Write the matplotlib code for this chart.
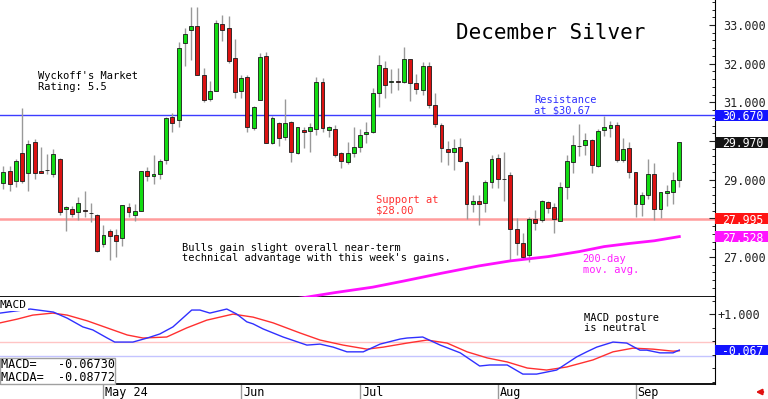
import numpy as np
import matplotlib.pyplot as plt
from matplotlib.patches import Rectangle
from matplotlib.transforms import blended_transform_factory, offset_copy
from matplotlib.ticker import FixedLocator, MultipleLocator

plt.rcParams['font.family'] = ['DejaVu Sans Mono', 'DejaVu Sans']

# daily candles, December silver, mid Apr - mid Sep 2024
opens = [28.91, 29.22, 28.97, 29.69, 29.17, 29.97, 29.22, 29.24, 29.15, 29.53,
         28.24, 28.24, 28.16, 28.22, 28.14, 28.09, 27.34, 27.67, 27.57, 27.49,
         28.29, 28.09, 28.19, 29.22, 29.09, 29.15, 29.51, 30.62, 30.54, 32.53,
         32.87, 32.97, 31.71, 31.09, 31.29, 33.02, 32.92, 32.15, 31.29, 31.65,
         30.34, 31.06, 32.20, 29.95, 30.47, 30.10, 30.49, 29.69, 30.28, 30.26,
         30.31, 31.53, 30.28, 30.31, 29.69, 29.46, 29.69, 29.84, 30.18, 30.23,
         31.24, 31.89, 31.52, 31.54, 31.53, 32.12, 31.50, 31.32, 31.94, 30.93,
         30.41, 29.79, 29.72, 29.84, 29.46, 28.37, 28.45, 28.40, 28.94, 29.56,
         29.01, 29.12, 27.72, 27.36, 27.05, 27.98, 27.96, 28.42, 28.29, 27.93,
         28.81, 29.46, 29.88, 29.90, 30.03, 29.35, 30.28, 30.34, 30.41, 29.51,
         29.82, 29.20, 28.37, 28.60, 29.15, 28.24, 28.65, 28.68, 28.99]
highs = [29.35, 29.35, 29.53, 30.85, 30.03, 30.05, 29.84, 29.66, 29.79, 29.56,
         28.32, 28.32, 28.55, 28.71, 28.40, 28.10, 27.83, 27.72, 27.72, 28.35,
         28.40, 28.37, 29.23, 29.33, 29.64, 29.53, 30.62, 30.72, 32.56, 32.92,
         33.47, 33.47, 31.89, 31.55, 33.13, 33.26, 33.23, 32.64, 31.71, 31.71,
         30.91, 32.28, 32.30, 30.65, 30.49, 31.09, 30.52, 30.37, 30.36, 30.47,
         31.65, 31.63, 30.39, 30.41, 29.72, 29.97, 30.36, 30.31, 30.49, 31.37,
         32.22, 32.07, 31.86, 31.89, 32.43, 32.13, 31.73, 32.04, 32.04, 31.24,
         30.46, 30.00, 30.05, 30.08, 29.47, 28.60, 28.60, 28.99, 29.64, 29.66,
         29.72, 29.20, 28.01, 27.62, 28.03, 28.22, 28.47, 28.45, 28.40, 28.94,
         29.64, 30.16, 30.44, 30.21, 30.04, 30.31, 30.65, 30.52, 30.49, 30.08,
         29.97, 29.21, 28.68, 29.53, 29.43, 28.69, 28.86, 29.20, 29.98]
lows = [28.76, 28.71, 28.81, 28.91, 28.71, 29.02, 29.16, 29.15, 29.07, 28.09,
        27.67, 28.03, 27.96, 28.03, 27.91, 27.14, 27.26, 26.92, 27.00, 27.28,
        28.03, 27.93, 28.18, 28.97, 28.89, 29.02, 29.40, 30.23, 30.36, 31.94,
        32.09, 31.70, 31.01, 31.03, 31.28, 32.59, 32.02, 31.11, 31.11, 30.23,
        30.28, 31.05, 29.94, 29.92, 29.87, 30.03, 29.46, 29.66, 29.82, 29.72,
        30.16, 30.23, 30.10, 29.59, 29.30, 29.40, 29.59, 29.72, 29.95, 30.21,
        30.88, 31.11, 31.24, 31.32, 31.50, 31.03, 31.22, 31.19, 30.85, 30.36,
        29.46, 29.38, 29.25, 29.46, 27.98, 28.16, 27.83, 28.16, 28.78, 28.78,
        28.45, 26.92, 27.05, 26.97, 26.87, 27.70, 27.91, 28.14, 27.62, 27.93,
        28.50, 29.17, 29.61, 29.64, 29.17, 29.33, 30.13, 30.10, 29.46, 29.46,
        29.04, 28.03, 28.06, 28.50, 27.96, 28.01, 28.32, 28.37, 28.81]
closes = [29.20, 28.89, 29.48, 28.97, 29.92, 29.17, 29.17, 29.26, 29.66, 28.16,
          28.29, 28.11, 28.40, 28.19, 28.13, 27.15, 27.57, 27.54, 27.41, 28.34,
          28.16, 28.19, 29.22, 29.09, 29.15, 29.48, 30.59, 30.47, 32.40, 32.77,
          32.97, 31.71, 31.06, 31.29, 33.05, 32.87, 32.07, 31.27, 31.63, 30.36,
          30.88, 32.17, 29.95, 30.59, 30.08, 30.47, 29.72, 30.36, 30.23, 30.36,
          31.53, 30.34, 30.36, 29.64, 29.48, 29.69, 29.84, 30.16, 30.23, 31.24,
          31.96, 31.45, 31.54, 31.52, 32.12, 31.50, 31.34, 31.94, 30.93, 30.44,
          29.82, 29.72, 29.82, 29.48, 28.37, 28.45, 28.37, 28.94, 29.53, 29.02,
          29.03, 27.72, 27.36, 27.00, 27.98, 27.88, 28.45, 28.27, 27.98, 28.81,
          29.48, 29.90, 29.86, 30.03, 29.38, 30.26, 30.36, 30.41, 29.51, 29.79,
          29.20, 28.37, 28.60, 29.15, 28.24, 28.68, 28.71, 28.99, 29.97]

# 200-day moving average (bar index, price)
ma_idx = [45, 48, 53, 59, 64, 70, 76, 81, 87, 92, 96, 100, 104, 108]
ma_val = [25.88, 25.95, 26.08, 26.22, 26.38, 26.58, 26.77, 26.90, 27.01,
          27.14, 27.27, 27.35, 27.42, 27.528]

# MACD (blue) and its average (red)
macd_idx = [-0.5, 4.3, 8, 10.2, 12.7, 14.3, 16.6, 17.8, 20.7, 23, 25, 27.1,
            30.1, 31.4, 33, 35.7, 37.3, 38.9, 39.9, 41.5, 44.7, 48.5, 50.6,
            52.7, 54.9, 57.5, 60.2, 63.4, 64.5, 67, 69.8, 73, 76.1, 77.7, 80.5,
            83, 85.2, 88.4, 91.6, 93.2, 94.8, 97.4, 99.6, 101.7, 102.8, 104.9,
            107, 108]
macd_val = [1.03, 1.15, 1.06, 0.88, 0.62, 0.53, 0.29, 0.17, 0.17, 0.29, 0.41,
            0.62, 1.12, 1.12, 1.03, 1.15, 1.00, 0.77, 0.71, 0.56, 0.32, 0.08,
            0.11, 0.02, -0.12, -0.12, 0.11, 0.26, 0.29, 0.32, 0.08, -0.15,
            -0.54, -0.51, -0.51, -0.78, -0.78, -0.66, -0.27, -0.12, 0.02, 0.17,
            0.14, -0.07, -0.07, -0.15, -0.15, -0.067]
sig_idx = [-0.5, 2.2, 4.7, 7.9, 10.2, 13.4, 16.6, 19.8, 22.3, 26.1, 29.3, 32.5,
           36.7, 39.9, 43.1, 47.4, 50.6, 54.3, 58.1, 60.7, 64.5, 67.7, 70.9,
           74.1, 77.3, 80.5, 83.7, 86.8, 90.0, 94.2, 97.4, 100.6, 103.8, 107,
           108]
sig_val = [0.74, 0.85, 0.97, 1.03, 0.97, 0.80, 0.59, 0.38, 0.29, 0.32, 0.59,
           0.82, 1.00, 0.91, 0.74, 0.44, 0.23, 0.08, -0.04, 0.02, 0.14, 0.23,
           0.14, -0.12, -0.30, -0.42, -0.60, -0.66, -0.57, -0.36, -0.12, -0.01,
           -0.04, -0.10, -0.088]

months = ['May 24', 'Jun', 'Jul', 'Aug', 'Sep']
month_idx = [16, 38, 57, 79, 101]

resistance = 30.67
support = 27.995
last_close = 29.97

fig = plt.figure(figsize=(7.68, 3.99), dpi=100)
ax = fig.add_axes([0, 1 - 297/399, 715/768, 297/399])
ax2 = fig.add_axes([0, 1 - 384/399, 715/768, 87/399], sharex=ax)

x = np.arange(len(opens))
o = np.array(opens)
c = np.array(closes)
cols = np.where(c >= o, '#12dc12', '#dc1212')
ax.vlines(x, lows, highs, color='#999999', lw=1, zorder=2)
ax.bar(x, np.maximum(np.abs(c - o), 0.02), bottom=np.minimum(o, c), width=0.62,
       color=cols, edgecolor='#1a1a1a', linewidth=0.6, zorder=3)

ax.axhline(resistance, color='#3c3cff', lw=1, zorder=1)
ax.axhline(support, color='#ff9c9c', lw=1.8, zorder=1)
ax.plot(ma_idx, ma_val, color='#ff10ff', lw=2, zorder=4)

ax.set_xlim(-0.53, 113.7)
ax.set_ylim(25.966, 33.646)
for s in ['left', 'top']:
    ax.spines[s].set_visible(False)
ax.spines['bottom'].set_linewidth(1.3)
ax.yaxis.tick_right()
ax.set_yticks([27, 28, 29, 30, 31, 32, 33])
ax.set_yticklabels(['27.000', '', '29.000', '', '31.000', '32.000', '33.000'])
ax.yaxis.set_minor_locator(MultipleLocator(0.2))
ax.tick_params(axis='y', which='major', direction='in', length=4, pad=6,
               labelsize=8.5, colors='#222222')
ax.tick_params(axis='y', which='minor', direction='in', length=2)
ax.tick_params(axis='x', which='both', bottom=False, labelbottom=False)

# value tags at the right edge
def tag(a, val, text, color, h):
    tr = blended_transform_factory(a.transAxes, a.transData)
    a.add_patch(Rectangle((1.0, val - h / 2), 53 / 715, h, transform=tr,
                          facecolor=color, edgecolor='none', clip_on=False,
                          zorder=5))
    tr_txt = offset_copy(tr, fig=fig, x=0, y=-1.5, units='dots')
    a.text(1.0 + 7 / 715, val, text, transform=tr_txt, color='white',
           fontsize=8.3, va='center', ha='left', zorder=6, clip_on=False)

tag(ax, resistance, '30.670', '#1414ff', 0.28)
tag(ax, last_close, '29.970', '#141414', 0.28)
tag(ax, support, '27.995', '#ff1414', 0.28)
tag(ax, ma_val[-1], '27.528', '#ff14ff', 0.28)

ax.text(0.638, 0.889, 'December Silver', transform=ax.transAxes, fontsize=15,
        va='center', ha='left', color='black')
ax.text(0.053, 0.726, "Wyckoff's Market\nRating: 5.5", transform=ax.transAxes,
        fontsize=7.5, va='center', linespacing=1.05)
ax.text(0.747, 0.646, 'Resistance\nat $30.67', transform=ax.transAxes,
        fontsize=7.5, va='center', linespacing=1.05, color='#3030ff')
ax.text(0.526, 0.310, 'Support at\n$28.00', transform=ax.transAxes,
        fontsize=7.5, va='center', linespacing=1.05, color='#ff3030')
ax.text(0.2545, 0.148,
        "Bulls gain slight overall near-term\ntechnical advantage with this week's gains.",
        transform=ax.transAxes, fontsize=7.5, va='center', linespacing=1.05)
ax.text(0.815, 0.109, '200-day\nmov. avg.', transform=ax.transAxes,
        fontsize=7.5, va='center', linespacing=1.05, color='#ff20ff')

# MACD panel
ax2.axhline(0.17, color='#ffc4c4', lw=1, zorder=1)
ax2.axhline(-0.24, color='#c4c4ff', lw=1, zorder=1)
ax2.plot(sig_idx, sig_val, color='#ff3030', lw=1, zorder=3)
ax2.plot(macd_idx, macd_val, color='#3030ff', lw=1, zorder=3)
ax2.set_ylim(-1.074, 1.507)
for s in ['left', 'top']:
    ax2.spines[s].set_visible(False)
ax2.spines['bottom'].set_linewidth(1.3)
ax2.yaxis.tick_right()
ax2.set_yticks([1.0])
ax2.set_yticklabels(['+1.000'])
ax2.yaxis.set_minor_locator(FixedLocator([1.4, 0.6, 0.2, -0.2, -0.6, -1.0]))
ax2.tick_params(axis='y', which='major', direction='in', length=4, pad=2,
                labelsize=8.5, colors='#222222')
ax2.tick_params(axis='y', which='minor', direction='in', length=2)
tag(ax2, -0.067, '-0.067', '#1414ff', 0.30)

ax2.set_xticks(month_idx)
ax2.set_xticklabels([''] * len(months))
ax2.tick_params(axis='x', direction='out', length=11, width=1, color='#9a9a9a')
trx = blended_transform_factory(ax2.transData, ax2.transAxes)
for m, lab in zip(month_idx, months):
    ax2.text(m + 0.3, -0.095, lab, transform=trx, fontsize=8.5, va='center',
             ha='left', clip_on=False)

ax2.text(0.0, 0.908, 'MACD', transform=ax2.transAxes, fontsize=8, va='center',
         ha='left', zorder=6,
         bbox=dict(facecolor='white', edgecolor='none', pad=0.5))
ax2.text(0.817, 0.701, 'MACD posture\nis neutral', transform=ax2.transAxes,
         fontsize=7.5, va='center', linespacing=1.05)
ax2.add_patch(Rectangle((0, 0), 115 / 715, 26 / 87, transform=ax2.transAxes,
                        facecolor='white', edgecolor='#a0a0a0', lw=1, zorder=5,
                        clip_on=False))
ax2.text(0.002, 0.15, 'MACD=   -0.06730\nMACDA=  -0.08772', transform=ax2.transAxes,
         fontsize=8.5, va='center', ha='left', linespacing=1.0, zorder=6)

ax2.annotate('', xy=(753 / 768, 7 / 399), xytext=(766 / 768, 7 / 399),
             xycoords='figure fraction', textcoords='figure fraction',
             arrowprops=dict(arrowstyle='-|>', color='#e01010', lw=1.5,
                             mutation_scale=8))

plt.savefig('out.png', dpi=100)
